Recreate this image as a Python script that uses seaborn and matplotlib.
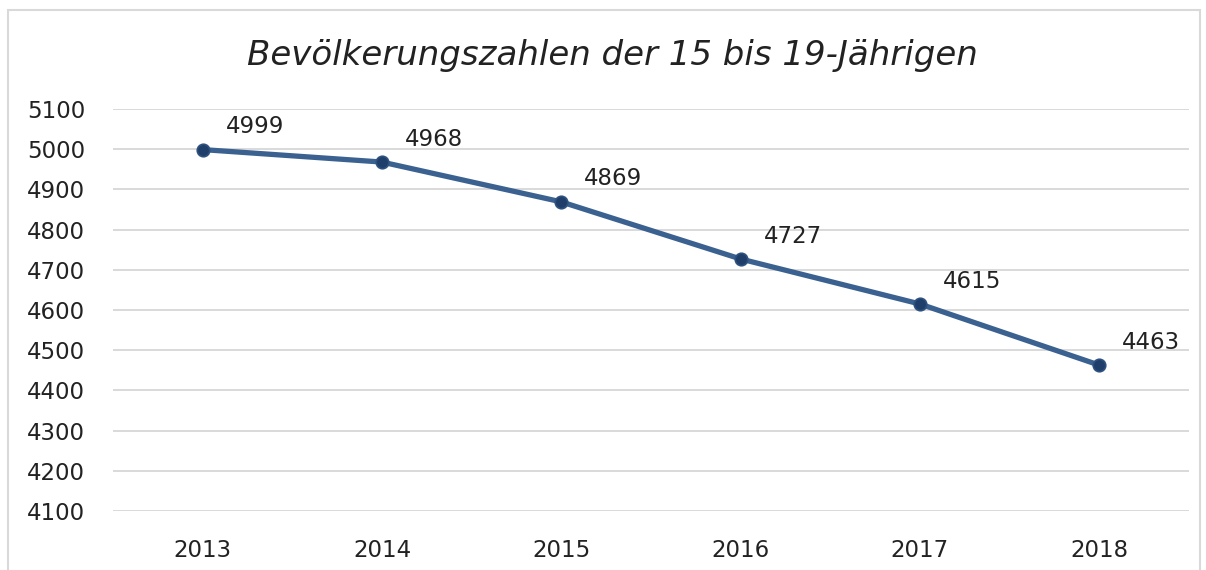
import pandas as pd
import matplotlib.pyplot as plt
import seaborn as sns
from matplotlib.patches import Rectangle

# Daten
jahre = ['2013', '2014', '2015', '2016', '2017', '2018']
werte = [4999, 4968, 4869, 4727, 4615, 4463]
titel = 'Bevölkerungszahlen der 15 bis 19-Jährigen'

df = pd.DataFrame({'Jahr': jahre, 'Wert': werte})

sns.set_style('white')
plt.rcParams['font.family'] = ['DejaVu Sans']

fig = plt.figure(figsize=(12.06, 5.70), dpi=100)
ax = fig.add_axes([0.0937, 0.1035, 0.892, 0.7053])

# Rahmen um das Diagramm
fig.patches.append(Rectangle((8 / 1206, -0.1), 1192 / 1206, 1 - 10 / 570 + 0.1,
                             transform=fig.transFigure, fill=False,
                             edgecolor='#d9d9d9', linewidth=1.5))

sns.lineplot(data=df, x='Jahr', y='Wert', ax=ax, color='#3a6190', linewidth=3.8,
             marker='o', markersize=9, markerfacecolor='#1f3f6a',
             markeredgecolor='#2e5280', markeredgewidth=1.2, sort=False)

for i, v in enumerate(werte):
    ax.annotate(str(v), (i, v), xytext=(16.5, 16.5), textcoords='offset points',
                ha='left', va='center', fontsize=16.5, color='#222222')

ax.set_xlim(-0.5, len(jahre) - 0.5)
ax.set_ylim(4100, 5100)
ax.set_yticks(range(4100, 5101, 100))
ax.grid(axis='y', color='#d9d9d9', linewidth=1.4)
ax.set_axisbelow(True)
for s in ax.spines.values():
    s.set_visible(False)
ax.tick_params(axis='y', length=0, pad=20, labelsize=16.5, labelcolor='#222222')
ax.tick_params(axis='x', length=0, pad=20, labelsize=16.5, labelcolor='#222222')
ax.set_xlabel('')
ax.set_ylabel('')

fig.text(612 / 1206, 1 - 56 / 570, titel, ha='center', va='center',
         fontsize=24.5, style='italic', color='#222222')

fig.savefig('out.png', dpi=100)
